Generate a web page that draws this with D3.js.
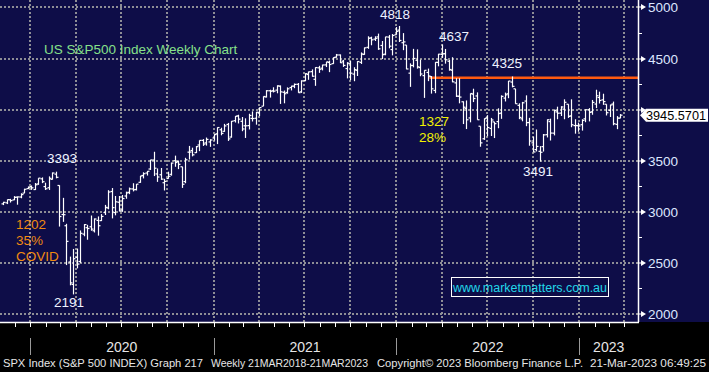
<!DOCTYPE html>
<html>
<head>
<meta charset="utf-8">
<script src="https://cdn.jsdelivr.net/npm/d3@7"></script>
<style>
  body { margin: 0; background: #000; }
  svg { display: block; }
  text { font-family: "Liberation Sans", Arial, sans-serif; }
</style>
</head>
<body>
<div id="chart"></div>
<script>

///////////////////////////////////////////////////
//
//        SPX weekly bars - data
//
///////////////////////////////////////////////////

// one bar per week, week ending Friday, starting here
var firstWeek = "2019-11-08";

var weekOpen = [
  3078,3088,3118,3117,3144,3145,3183,3227,
  3247,3218,3273,3323,3247,3236,3318,3369,3258,2974,2864,2509,2290,2555,2514,2782,2845,2854,2815,2916,2914,2993,3038,3199,2993,3094,3018,3155,3191,3224,3219,3289,3356,3380,3419,3507,3371,3363,3285,3326,3367,3500,3493,3441,3296,3584,3600,3579,3654,3699,3675,3684,3723,
  3764,3803,3788,3855,3732,3892,3939,3886,3842,3844,3914,3916,3969,4034,4124,4185,4185,4191,4229,4170,4168,4216,4230,4248,4174,4285,4344,4372,4297,4409,4406,4438,4462,4450,4514,4535,4474,4402,4449,4348,4385,4463,4540,4610,4702,4690,4712,4628,4543,4710,4588,4733,
  4778,4655,4632,4357,4432,4483,4412,4333,4364,4323,4188,4462,4541,4548,4474,4386,4262,4131,4077,4013,3919,4152,4134,3838,3715,3920,3816,3880,3883,3966,4113,4155,4270,4204,4042,3910,4084,3874,3675,3609,3592,3638,3755,3883,3770,3978,3966,4005,4053,3939,3844,3843,
  3853,3910,3999,3979,4055,4119,4096,4053,3993,4055,3856,3917
];

var weekHigh = [
  3098,3121,3127,3154,3150,3182,3226,3248,
  3258,3282,3330,3337,3285,3347,3385,3393,3260,3137,2883,2562,2637,2641,2818,2880,2873,2964,2935,2955,2978,3068,3212,3233,3155,3155,3165,3198,3238,3280,3272,3352,3387,3399,3509,3588,3425,3429,3323,3393,3482,3550,3502,3441,3529,3645,3628,3644,3699,3712,3727,3711,3760,
  3827,3823,3861,3870,3889,3937,3950,3928,3915,3960,3983,3978,4021,4130,4191,4195,4219,4238,4237,4187,4218,4234,4256,4261,4287,4356,4372,4394,4415,4429,4440,4468,4480,4512,4545,4540,4487,4465,4476,4415,4475,4560,4608,4718,4714,4718,4744,4672,4713,4731,4740,4808,
  4819,4749,4632,4453,4595,4590,4490,4386,4402,4329,4465,4546,4637,4594,4486,4513,4308,4307,4081,4090,4159,4205,4169,3838,3914,3946,3919,3880,4013,4140,4167,4281,4325,4204,4062,4076,4140,3920,3736,3806,3643,3762,3905,3912,4001,4029,4034,4101,4053,4101,3906,3873,
  3906,4003,4015,4095,4195,4176,4156,4053,4049,4079,3937,3957
];

var weekLow = [
  3066,3076,3091,3115,3070,3133,3183,3223,
  3215,3214,3264,3281,3214,3214,3316,3328,2856,2902,2479,2281,2192,2447,2500,2761,2727,2815,2798,2767,2910,2969,3025,2936,2966,3004,3000,3128,3173,3200,3209,3284,3327,3355,3410,3350,3293,3313,3209,3324,3354,3441,3418,3234,3280,3512,3543,3576,3594,3645,3648,3636,3697,
  3663,3749,3783,3694,3726,3874,3865,3789,3723,3806,3884,3853,3936,4034,4119,4118,4168,4160,4056,4062,4156,4188,4210,4165,4164,4278,4292,4322,4233,4360,4384,4417,4367,4448,4508,4456,4418,4306,4288,4278,4329,4447,4537,4595,4630,4672,4585,4495,4532,4600,4531,4733,
  4662,4582,4395,4223,4414,4401,4327,4115,4279,4157,4161,4424,4507,4450,4381,4268,4124,4062,3859,3810,3876,4074,3901,3637,3704,3739,3742,3722,3818,3910,4080,4112,4218,4057,3907,3886,3838,3647,3584,3591,3492,3590,3728,3698,3748,3906,3938,3906,3919,3828,3765,3784,
  3795,3877,3885,3950,4015,4060,4047,3943,3928,3847,3809,3916
];

var weekClose = [
  3093,3120,3110,3141,3146,3169,3221,3240,
  3235,3265,3330,3295,3226,3328,3380,3338,2954,2972,2711,2305,2541,2489,2790,2875,2837,2831,2930,2864,2955,3044,3194,3041,3098,3009,3130,3185,3225,3216,3271,3351,3373,3397,3508,3427,3341,3320,3298,3348,3477,3483,3465,3270,3509,3585,3558,3638,3699,3663,3709,3703,3756,
  3825,3768,3841,3714,3887,3935,3907,3811,3842,3943,3913,3975,4020,4129,4185,4180,4181,4233,4174,4156,4204,4230,4247,4166,4281,4352,4370,4327,4412,4395,4437,4468,4442,4509,4535,4459,4433,4455,4357,4391,4471,4545,4605,4698,4683,4698,4595,4538,4712,4621,4726,4766,
  4677,4663,4398,4432,4501,4419,4349,4385,4329,4204,4463,4543,4546,4488,4393,4272,4132,4123,4024,3901,4158,4109,3901,3675,3912,3825,3899,3863,3962,4130,4145,4280,4228,4058,3924,4067,3873,3693,3586,3640,3583,3753,3901,3771,3993,3965,4026,4072,3934,3852,3845,3840,
  3895,3999,3973,4071,4136,4090,4079,3970,4046,3862,3917,3946
];

// right axis prices
var yTicks = [2000, 2500, 3000, 3500, 4000, 4500, 5000];
var yMinor = [2250, 2750, 3250, 3750, 4250, 4750];
var lastPrice = 3945.5701;

// resistance line
var lineLevel = 4312;
var lineStart = "2022-03-08";

// year strip along the bottom
var years = [2020, 2021, 2022, 2023];

///////////////////////////////////////////////////
//
//        Chart
//
///////////////////////////////////////////////////

var W = 709, H = 372,
    plotRight = 638,
    plotBottom = 322;

var parse = d3.timeParse("%Y-%m-%d");

var bars = weekClose.map(function(c, i) {
  return {
    date: d3.timeWeek.offset(parse(firstWeek), i),
    o: weekOpen[i], h: weekHigh[i], l: weekLow[i], c: c
  };
});

var x = d3.scaleTime()
  .domain([parse("2019-11-02"), parse("2023-04-28")])
  .range([0, plotRight]);

var y = d3.scaleLinear()
  .domain([1922, 5073])
  .range([plotBottom, 0]);

var svg = d3.select("#chart")
  .append("svg")
  .attr("width", W)
  .attr("height", H);

// backgrounds
svg.append("rect")
  .attr("width", W).attr("height", H)
  .attr("fill", "#000");

svg.append("rect")
  .attr("width", W).attr("height", plotBottom)
  .attr("fill", "#0e0d48");

// dotted grid
var grid = svg.append("g")
  .attr("stroke", "#8e8e96")
  .attr("stroke-width", 2)
  .attr("stroke-dasharray", "2,2")
  .attr("shape-rendering", "crispEdges");

grid.selectAll(".hgrid")
  .data(yTicks)
  .enter()
  .append("line")
  .attr("x1", 0)
  .attr("x2", plotRight)
  .attr("y1", function(d) { return Math.round(y(d)); })
  .attr("y2", function(d) { return Math.round(y(d)); });

grid.selectAll(".vgrid")
  .data(x.ticks(d3.timeMonth.every(3)))
  .enter()
  .append("line")
  .attr("x1", function(d) { return Math.round(x(d)); })
  .attr("x2", function(d) { return Math.round(x(d)); })
  .attr("y1", 0)
  .attr("y2", plotBottom);

// orange line
svg.append("line")
  .attr("x1", x(parse(lineStart)))
  .attr("x2", plotRight)
  .attr("y1", y(lineLevel))
  .attr("y2", y(lineLevel))
  .attr("stroke", "#ff5a10")
  .attr("stroke-width", 2.5);

// ohlc bars
var plot = svg.append("g")
  .attr("clip-path", "url(#clip)");

svg.append("clipPath")
  .attr("id", "clip")
  .append("rect")
  .attr("width", plotRight)
  .attr("height", plotBottom);

var ohlc = plot.selectAll(".bar")
  .data(bars)
  .enter()
  .append("g")
  .attr("class", "bar")
  .attr("stroke", "#fff")
  .attr("stroke-width", 1.2);

ohlc.append("line")
  .attr("x1", function(d) { return Math.round(x(d.date)) + 0.5; })
  .attr("x2", function(d) { return Math.round(x(d.date)) + 0.5; })
  .attr("y1", function(d) { return y(d.h); })
  .attr("y2", function(d) { return y(d.l); });

ohlc.append("line")
  .attr("x1", function(d) { return Math.round(x(d.date)) - 1.5; })
  .attr("x2", function(d) { return Math.round(x(d.date)) + 0.5; })
  .attr("y1", function(d) { return y(d.o); })
  .attr("y2", function(d) { return y(d.o); });

ohlc.append("line")
  .attr("x1", function(d) { return Math.round(x(d.date)) + 0.5; })
  .attr("x2", function(d) { return Math.round(x(d.date)) + 2.5; })
  .attr("y1", function(d) { return y(d.c); })
  .attr("y2", function(d) { return y(d.c); });

// right axis
var axisColor = "#dde6ff";

svg.append("line")
  .attr("x1", plotRight + 0.5).attr("x2", plotRight + 0.5)
  .attr("y1", 0).attr("y2", plotBottom)
  .attr("stroke", "#fff")
  .attr("stroke-width", 1.5);

svg.selectAll(".minor")
  .data(yMinor)
  .enter()
  .append("line")
  .attr("x1", plotRight).attr("x2", plotRight + 4)
  .attr("y1", function(d) { return Math.round(y(d)) + 0.5; })
  .attr("y2", function(d) { return Math.round(y(d)) + 0.5; })
  .attr("stroke", "#fff");

var major = svg.selectAll(".major")
  .data(yTicks)
  .enter()
  .append("g")
  .attr("transform", function(d) { return "translate(" + plotRight + "," + Math.round(y(d)) + ")"; });

major.append("path")
  .attr("d", "M0,-0.5 L3,-0.5 L3,-3 L8,0 L3,3 L3,0.5 L0,0.5 Z")
  .attr("fill", "#fff");

// labels hidden behind the last price flag are left out
major.filter(function(d) { return Math.abs(y(d) - y(lastPrice)) > 12; })
  .append("text")
  .attr("x", 10)
  .attr("y", 5)
  .attr("font-size", 13.5)
  .attr("fill", axisColor)
  .text(function(d) { return d; });

// last price flag
var flag = svg.append("g")
  .attr("transform", "translate(" + (plotRight + 2) + "," + y(lastPrice) + ")");

flag.append("path")
  .attr("d", "M0,0 L6,-6.5 L68,-6.5 L68,6.5 L6,6.5 Z")
  .attr("fill", "#fff");

flag.append("text")
  .attr("x", 6)
  .attr("y", 5)
  .attr("font-size", 13)
  .attr("fill", "#000")
  .attr("textLength", 60)
  .attr("lengthAdjust", "spacingAndGlyphs")
  .text(d3.format(".4f")(lastPrice));

// bottom time axis
svg.append("line")
  .attr("x1", 0).attr("x2", plotRight + 1)
  .attr("y1", plotBottom + 0.5).attr("y2", plotBottom + 0.5)
  .attr("stroke", "#fff")
  .attr("stroke-width", 1.5);

svg.selectAll(".mtick")
  .data(x.ticks(d3.timeMonth.every(1)))
  .enter()
  .append("line")
  .attr("x1", function(d) { return Math.round(x(d)) + 0.5; })
  .attr("x2", function(d) { return Math.round(x(d)) + 0.5; })
  .attr("y1", plotBottom)
  .attr("y2", plotBottom + 5)
  .attr("stroke", "#fff");

// year separators and labels
svg.selectAll(".ysep")
  .data(years)
  .enter()
  .append("line")
  .attr("x1", function(d) { return Math.round(x(new Date(d, 0, 1))) + 0.5; })
  .attr("x2", function(d) { return Math.round(x(new Date(d, 0, 1))) + 0.5; })
  .attr("y1", 338)
  .attr("y2", 355)
  .attr("stroke", "#9a9a9a");

svg.selectAll(".ylab")
  .data(years)
  .enter()
  .append("text")
  .attr("x", function(d) {
    var a = x(new Date(d, 0, 1)),
        b = Math.min(x(new Date(d + 1, 0, 1)), plotRight);
    return (a + b) / 2;
  })
  .attr("y", 352)
  .attr("text-anchor", "middle")
  .attr("font-size", 14)
  .attr("fill", "#e6e6e6")
  .text(function(d) { return d; });

// footer
var footer = [
  ["SPX Index (S&P 500 INDEX) Graph 217", 3, 200],
  ["Weekly 21MAR2018-21MAR2023", 211, 157],
  ["Copyright\u00a9 2023 Bloomberg Finance L.P.", 377, 206],
  ["21-Mar-2023 06:49:25", 590, 116]
];

svg.selectAll(".foot")
  .data(footer)
  .enter()
  .append("text")
  .attr("x", function(d) { return d[1]; })
  .attr("y", 367)
  .attr("font-family", "'DejaVu Sans', sans-serif")
  .attr("font-size", 11.5)
  .attr("fill", "#e6e6e6")
  .attr("textLength", function(d) { return d[2]; })
  .attr("lengthAdjust", "spacingAndGlyphs")
  .text(function(d) { return d[0]; });

///////////////////////////////////////////////////
//
//        Annotations
//
///////////////////////////////////////////////////

function note(txt, px, py, color) {
  svg.append("text")
    .attr("x", px)
    .attr("y", py)
    .attr("font-size", 13.5)
    .attr("fill", color)
    .text(txt);
}

var white = "#eef2ff",
    orange = "#f08a10",
    yellow = "#f2f200";

note("US S&P500 Index Weekly Chart", 44, 54, "#86e08a");
note("3393", 47, 163, white);
note("2191", 54, 307, white);
note("1202", 16, 229, orange);
note("35%", 16, 245, orange);
note("COVID", 16, 261, orange);
note("4818", 380, 19, white);
note("4637", 439, 41, white);
note("4325", 492, 68, white);
note("1327", 419, 126, yellow);
note("28%", 419, 142, yellow);
note("3491", 523, 176, white);

// watermark box
svg.append("rect")
  .attr("x", 451.5).attr("y", 277.5)
  .attr("width", 157).attr("height", 19)
  .attr("fill", "none")
  .attr("stroke", "#fff");

svg.append("text")
  .attr("x", 453)
  .attr("y", 292)
  .attr("font-size", 12.5)
  .attr("fill", "#22d8e8")
  .attr("textLength", 154)
  .attr("lengthAdjust", "spacingAndGlyphs")
  .text("www.marketmatters.com.au");

</script>
</body>
</html>
